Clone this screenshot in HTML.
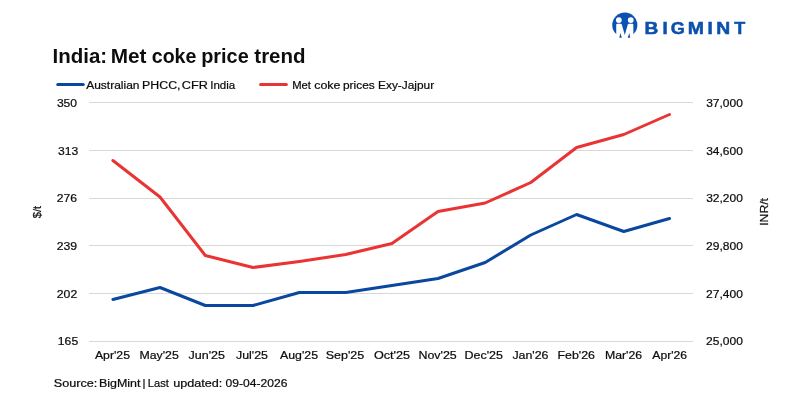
<!DOCTYPE html>
<html><head><meta charset="utf-8"><title>India: Met coke price trend</title>
<style>
html,body{margin:0;padding:0;background:#fff;}
body{width:800px;height:400px;overflow:hidden;font-family:"Liberation Sans",Arial,sans-serif;}
svg{display:block;}
text{font-family:"Liberation Sans",Arial,sans-serif;fill:#161616;}
.t{font-size:19.3px;font-weight:bold;fill:#0d0d0d;}
.a{font-size:11.5px;fill:#0c0c0c;stroke:#0c0c0c;stroke-width:0.22px;}
.lg{font-size:17px;font-weight:bold;fill:#0c50ad;stroke:#0c50ad;stroke-width:0.5px;}
</style></head><body>
<svg width="800" height="400" viewBox="0 0 800 400">
<rect width="800" height="400" fill="#fff"/>
<line x1="89" x2="693" y1="102.5" y2="102.5" stroke="#d8d8d8" stroke-width="1"/>
<line x1="89" x2="693" y1="150.5" y2="150.5" stroke="#d8d8d8" stroke-width="1"/>
<line x1="89" x2="693" y1="198.5" y2="198.5" stroke="#d8d8d8" stroke-width="1"/>
<line x1="89" x2="693" y1="245.5" y2="245.5" stroke="#d8d8d8" stroke-width="1"/>
<line x1="89" x2="693" y1="293.5" y2="293.5" stroke="#d8d8d8" stroke-width="1"/>
<line x1="89" x2="693" y1="341.5" y2="341.5" stroke="#d8d8d8" stroke-width="1"/>
<text class="t" transform="translate(52.62,62.8) scale(1.0610,1)">India:</text>
<text class="t" transform="translate(110.70,62.8) scale(1.0773,1)">Met</text>
<text class="t" transform="translate(151.74,62.8) scale(1.0164,1)">coke</text>
<text class="t" transform="translate(201.21,62.8) scale(1.0305,1)">price</text>
<text class="t" transform="translate(254.33,62.8) scale(1.0621,1)">trend</text>
<line x1="57.75" x2="83.25" y1="84.5" y2="84.5" stroke="#0a479e" stroke-width="3" stroke-linecap="round"/>
<text class="a" transform="translate(86.20,88.5) scale(1.0427,1)">Australian</text>
<text class="a" transform="translate(142.08,88.5) scale(1.0740,1)">PHCC,</text>
<text class="a" transform="translate(181.84,88.5) scale(1.1000,1)">CFR</text>
<text class="a" transform="translate(210.19,88.5) scale(1.0063,1)">India</text>
<line x1="260.6" x2="286.4" y1="84.5" y2="84.5" stroke="#ea3333" stroke-width="3" stroke-linecap="round"/>
<text class="a" transform="translate(292.17,88.5) scale(0.9807,1)">Met</text>
<text class="a" transform="translate(314.21,88.5) scale(1.0837,1)">coke</text>
<text class="a" transform="translate(342.97,88.5) scale(1.0372,1)">prices</text>
<text class="a" transform="translate(378.02,88.5) scale(1.0338,1)">Exy-Jajpur</text>
<text class="a" transform="translate(56.88,106.9) scale(1.0519,1)">350</text>
<text class="a" transform="translate(706.13,106.9) scale(1.0437,1)">37,000</text>
<text class="a" transform="translate(57.93,155.0) scale(1.0548,1)">313</text>
<text class="a" transform="translate(706.13,155.0) scale(1.0437,1)">34,600</text>
<text class="a" transform="translate(56.77,202.2) scale(1.0606,1)">276</text>
<text class="a" transform="translate(706.13,202.2) scale(1.0437,1)">32,200</text>
<text class="a" transform="translate(56.77,250.1) scale(1.0635,1)">239</text>
<text class="a" transform="translate(706.02,250.1) scale(1.0468,1)">29,800</text>
<text class="a" transform="translate(56.76,297.9) scale(1.0665,1)">202</text>
<text class="a" transform="translate(706.02,297.9) scale(1.0468,1)">27,400</text>
<text class="a" transform="translate(57.85,345.1) scale(1.0588,1)">165</text>
<text class="a" transform="translate(706.02,345.1) scale(1.0468,1)">25,000</text>
<text class="a" transform="translate(94.95,358.8) scale(1.0665,1)">Apr'25</text>
<text class="a" transform="translate(139.48,358.8) scale(1.0709,1)">May'25</text>
<text class="a" transform="translate(188.53,358.8) scale(1.0883,1)">Jun'25</text>
<text class="a" transform="translate(236.03,358.8) scale(1.0776,1)">Jul'25</text>
<text class="a" transform="translate(279.95,358.8) scale(1.0745,1)">Aug'25</text>
<text class="a" transform="translate(325.65,358.8) scale(1.0901,1)">Sep'25</text>
<text class="a" transform="translate(373.90,358.8) scale(1.0989,1)">Oct'25</text>
<text class="a" transform="translate(418.47,358.8) scale(1.0809,1)">Nov'25</text>
<text class="a" transform="translate(464.47,358.8) scale(1.0853,1)">Dec'25</text>
<text class="a" transform="translate(512.38,358.8) scale(1.0776,1)">Jan'26</text>
<text class="a" transform="translate(557.47,358.8) scale(1.0795,1)">Feb'26</text>
<text class="a" transform="translate(604.88,358.8) scale(1.0705,1)">Mar'26</text>
<text class="a" transform="translate(652.35,358.8) scale(1.0572,1)">Apr'26</text>
<text class="a" transform="translate(41.2,218.3) rotate(-90) scale(0.97,1)">$/t</text>
<text class="a" transform="translate(768.2,225.8) rotate(-90) scale(1.06,1)">INR/t</text>
<polyline fill="none" stroke="#ea3333" stroke-width="3.0" stroke-linejoin="round" stroke-linecap="round" points="112.9,160.5 160.0,197 205.3,255.5 253.0,267.5 299.4,261.5 345.7,254.5 391.9,243.5 438.0,211.5 485.2,203 530.8,182.5 576.6,147.5 623.8,134.5 669.5,114.5"/>
<polyline fill="none" stroke="#0a479e" stroke-width="3.0" stroke-linejoin="round" stroke-linecap="round" points="112.9,299.5 160.0,287.5 205.3,305.5 253.0,305.5 299.4,292.5 345.7,292.5 391.9,285.5 438.0,278.5 485.2,262.5 530.8,235 576.6,214.5 623.8,231.5 669.5,218.5"/>
<text class="a" transform="translate(53.80,386.8) scale(1.0999,1)">Source:</text>
<text class="a" transform="translate(98.97,386.8) scale(1.0804,1)">BigMint</text>
<text class="a" transform="translate(142.55,386.8) scale(1.0000,1)">|</text>
<text class="a" transform="translate(147.83,386.8) scale(0.9662,1)">Last</text>
<text class="a" transform="translate(173.17,386.8) scale(1.1001,1)">updated:</text>
<text class="a" transform="translate(225.53,386.8) scale(1.0535,1)">09-04-2026</text>
<g id="logo">
<circle cx="624.8" cy="25" r="12.55" fill="#0b51b4"/>
<circle cx="618.85" cy="20.1" r="2.9" fill="#fff"/>
<circle cx="630.75" cy="20.1" r="2.9" fill="#fff"/>
<path d="M616.2 39 L616.25 24.7 Q616.25 23.8 617.2 23.8 L620.7 23.8 Q621.5 23.8 621.8 24.6 L624.8 35.0 L627.8 24.6 Q628.1 23.8 628.9 23.8 L632.4 23.8 Q633.35 23.8 633.35 24.7 L633.4 39 Z" fill="#fff"/>
<path d="M620.33 32.9 L621.85 37.7 L619.35 37.7 Z M629.27 32.9 L630.25 37.7 L627.75 37.7 Z" fill="#0b51b4"/>
</g>
<text class="lg" transform="translate(644.56,33.5) scale(1.1256,1)">B</text>
<text class="lg" transform="translate(662.38,33.5) scale(1.1020,1)">I</text>
<text class="lg" transform="translate(670.75,33.5) scale(1.0699,1)">G</text>
<text class="lg" transform="translate(687.84,33.5) scale(1.1429,1)">M</text>
<text class="lg" transform="translate(707.56,33.5) scale(1.1224,1)">I</text>
<text class="lg" transform="translate(716.19,33.5) scale(1.1350,1)">N</text>
<text class="lg" transform="translate(734.14,33.5) scale(1.0600,1)">T</text>
</svg></body></html>
